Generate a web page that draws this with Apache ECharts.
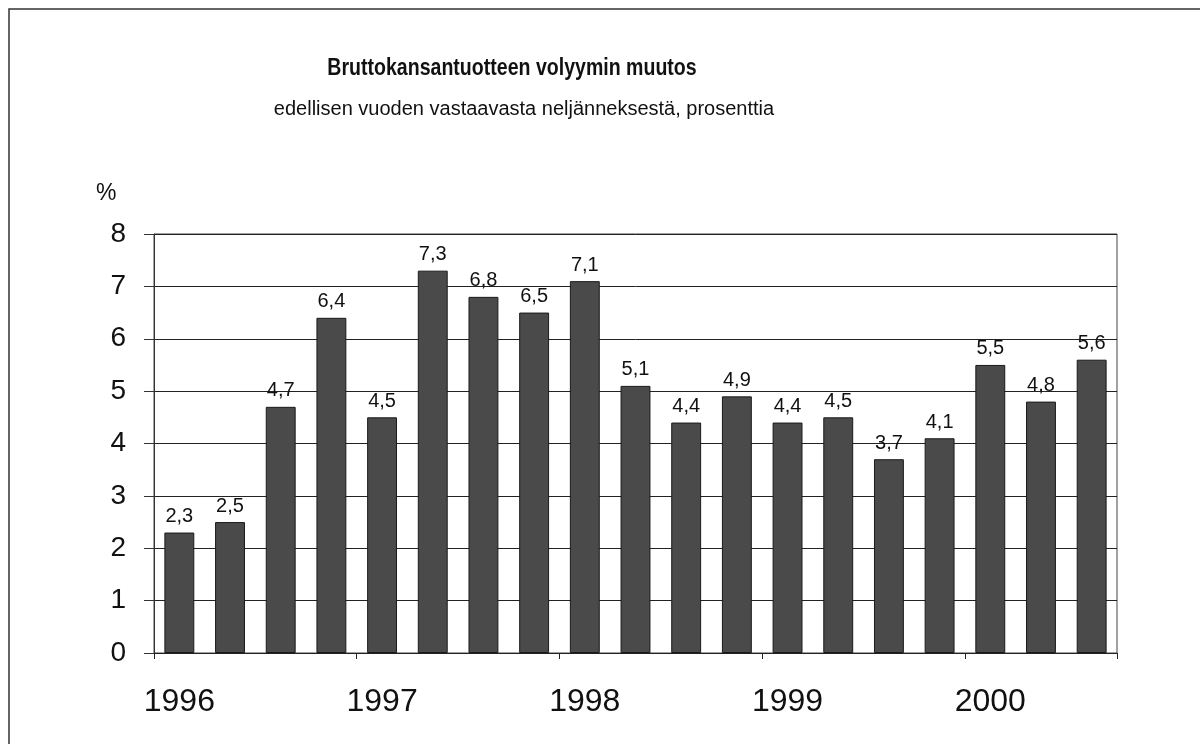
<!DOCTYPE html>
<html>
<head>
<meta charset="utf-8">
<script src="https://cdn.jsdelivr.net/npm/echarts@6/dist/echarts.min.js"></script>
<style>
  html, body { margin: 0; padding: 0; background: #fff; }
  #chart { width: 1200px; height: 744px; }
</style>
</head>
<body>
<div id="chart"></div>
<script>
// quarters 1996 Q1 .. 2000 Q3, only Q1 gets a year label
const quarters = [
  '1996', '1996 II', '1996 III', '1996 IV',
  '1997', '1997 II', '1997 III', '1997 IV',
  '1998', '1998 II', '1998 III', '1998 IV',
  '1999', '1999 II', '1999 III', '1999 IV',
  '2000', '2000 II', '2000 III'
]
const growth = [2.3, 2.5, 4.7, 6.4, 4.5, 7.3, 6.8, 6.5, 7.1, 5.1, 4.4, 4.9, 4.4, 4.5, 3.7, 4.1, 5.5, 4.8, 5.6]
const yTicks = [0, 1, 2, 3, 4, 5, 6, 7, 8]

const titleText = 'Bruttokansantuotteen volyymin muutos'
const subText = 'edellisen vuoden vastaavasta neljänneksestä, prosenttia'

const font = 'Liberation Sans, Arial, sans-serif'

const chart = echarts.init(document.getElementById('chart'))
chart.setOption({
  backgroundColor: '#fff',
  animation: false,
  title: [
    {
      text: subText,
      left: 519, top: 94, textAlign: 'center',
      textStyle: { fontFamily: font, fontWeight: 'normal', fontSize: 20, color: '#111' }
    },
    {
      text: '%',
      left: 91, top: 177,
      textStyle: { fontFamily: font, fontWeight: 'normal', fontSize: 23, color: '#111' }
    }
  ],
  graphic: [
    {
      type: 'rect',
      shape: { x: 9, y: 9, width: 1300, height: 800 },
      style: { fill: 'none', stroke: '#333', lineWidth: 1.5 },
      silent: true
    },
    {
      // narrow bold heading: squeeze Liberation Sans horizontally
      type: 'text',
      x: 512, y: 57,
      scaleX: 0.85,
      style: {
        text: titleText,
        align: 'center',
        verticalAlign: 'top',
        fontFamily: font,
        fontWeight: 'bold',
        fontSize: 23,
        fill: '#111'
      },
      silent: true
    }
  ],
  grid: { left: 154, right: 83, top: 234, bottom: 91, show: true, borderColor: '#444', borderWidth: 1 },
  xAxis: {
    type: 'category',
    data: quarters,
    axisLine: { lineStyle: { color: '#222', width: 1 } },
    axisTick: { show: true, interval: 3, length: 6, lineStyle: { color: '#222' } },
    axisLabel: {
      interval: 3,
      margin: 33,
      fontFamily: font,
      fontSize: 32,
      color: '#111',
      formatter: v => v.split(' ')[0]
    }
  },
  yAxis: {
    type: 'value',
    min: yTicks[0],
    max: yTicks[yTicks.length - 1],
    interval: 1,
    axisLine: { show: true, lineStyle: { color: '#333' } },
    axisTick: { show: true, length: 10, lineStyle: { color: '#333' } },
    axisLabel: { margin: 28, fontFamily: font, fontSize: 28, color: '#111' },
    splitLine: { show: true, lineStyle: { color: '#222', width: 1 } }
  },
  series: [
    {
      type: 'bar',
      data: growth,
      barCategoryGap: '41%',
      itemStyle: { color: '#4a4a4a', borderColor: '#1a1a1a', borderWidth: 1 },
      label: {
        show: true,
        position: 'top',
        distance: 6,
        fontFamily: font,
        fontSize: 20,
        color: '#111',
        formatter: p => p.value.toFixed(1).replace('.', ',')
      }
    }
  ]
})
</script>
</body>
</html>
